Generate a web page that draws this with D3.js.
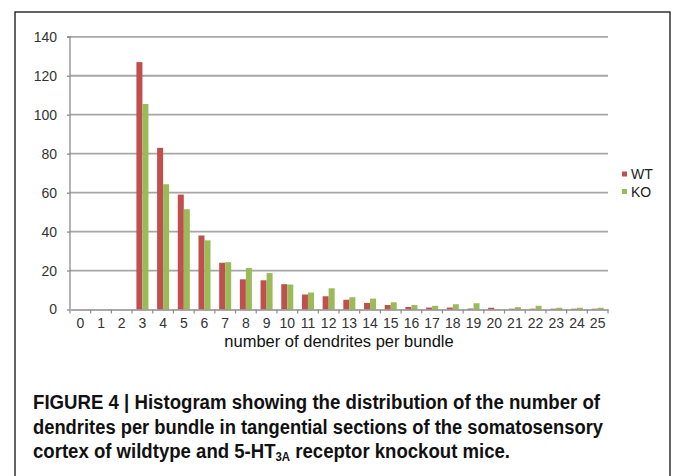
<!DOCTYPE html>
<html lang="en">
<head>
<meta charset="UTF-8">
<title>Dendrites per bundle</title>
<script src="https://d3js.org/d3.v7.min.js"></script>
<style>
  body { margin: 0; background: #fff; }
  svg { display: block; }
  .tick text { font-family: Arial, "Liberation Sans", sans-serif; font-size: 14px; fill: #333; }
</style>
</head>
<body>
<svg id="chart" width="673" height="476"></svg>
<script>
// number of dendrites per bundle (categories)
var categories = ["0","1","2","3","4","5","6","7","8","9","10","11","12","13","14","15","16","17","18","19","20","21","22","23","24","25"];
var seriesNames = ["WT", "KO"];
var wtValues = [0, 0, 0, 127, 83, 59, 38, 24, 15.5, 15, 13, 7.7, 6.8, 5, 3.4, 2.3, 1.3, 1, 1, 0.5, 0.9, 0.4, 0.4, 0.4, 0.4, 0.4];
var koValues = [0, 0, 0, 105.5, 64.3, 51.5, 35.5, 24.3, 21.3, 18.7, 12.8, 8.7, 10.9, 6.3, 5.6, 3.7, 2.3, 1.9, 2.7, 3.2, 0.3, 1.2, 1.9, 0.9, 0.9, 0.9];
var yTicks = [0, 20, 40, 60, 80, 100, 120, 140];
var colors = {WT: "#c0504d", KO: "#9bbb59"};

var captionLines = [
  "FIGURE 4 | Histogram showing the distribution of the number of",
  "dendrites per bundle in tangential sections of the somatosensory"
];

var svg = d3.select("#chart");

// outer frame
svg.append("rect")
  .attr("x", 15).attr("y", 12)
  .attr("width", 655).attr("height", 480)
  .attr("fill", "none").attr("stroke", "#111").attr("stroke-width", 1.3);

var plotLeft = 70, plotRight = 608, plotTop = 36.8, plotBottom = 309.5;

var x = d3.scaleBand().domain(categories).range([plotLeft, plotRight]).paddingInner(0).paddingOuter(0);
var xs = d3.scaleBand().domain(seriesNames).range([0, x.bandwidth()]).paddingInner(0).paddingOuter(0.72);
var y = d3.scaleLinear().domain([0, 140]).range([plotBottom, plotTop]);

// gridlines
svg.append("g").selectAll("line")
  .data(yTicks.filter(function(d) { return d > 0; }))
  .enter().append("line")
  .attr("x1", plotLeft).attr("x2", plotRight)
  .attr("y1", function(d) { return y(d); })
  .attr("y2", function(d) { return y(d); })
  .attr("stroke", "#a6a6a6").attr("stroke-width", 1.8);

// bars
var rows = categories.map(function(c, i) {
  return {cat: c, WT: wtValues[i], KO: koValues[i]};
});
var groups = svg.append("g").selectAll("g")
  .data(rows).enter().append("g")
  .attr("transform", function(d) { return "translate(" + x(d.cat) + ",0)"; });
groups.selectAll("rect")
  .data(function(d) { return seriesNames.map(function(s) { return {s: s, v: d[s]}; }); })
  .enter().append("rect")
  .attr("x", function(d) { return xs(d.s); })
  .attr("width", xs.bandwidth())
  .attr("y", function(d) { return y(d.v); })
  .attr("height", function(d) { return plotBottom - y(d.v); })
  .attr("fill", function(d) { return colors[d.s]; });

// y axis
var yAxis = svg.append("g")
  .attr("transform", "translate(" + plotLeft + ",0)")
  .call(d3.axisLeft(y).tickValues(yTicks).tickSize(3).tickPadding(10));
yAxis.selectAll("path, line").attr("stroke", "#8c8c8c").attr("stroke-width", 1.3);
yAxis.select(".domain").attr("d", "M-3," + plotTop + "H0V" + plotBottom);

// x axis
var xAxis = svg.append("g")
  .attr("transform", "translate(0," + plotBottom + ")")
  .call(d3.axisBottom(x).tickSize(0).tickPadding(9));
xAxis.select(".domain").attr("stroke", "#8c8c8c").attr("stroke-width", 1.5);
// tick marks between categories
xAxis.selectAll(".sep")
  .data(categories.concat(["end"]))
  .enter().append("line")
  .attr("class", "sep")
  .attr("x1", function(d) { return d === "end" ? plotRight : x(d); })
  .attr("x2", function(d) { return d === "end" ? plotRight : x(d); })
  .attr("y1", 0).attr("y2", 4)
  .attr("stroke", "#8c8c8c").attr("stroke-width", 1.2);

svg.append("text")
  .attr("x", (plotLeft + plotRight) / 2)
  .attr("y", 347)
  .attr("text-anchor", "middle")
  .style("font-family", "Arial, 'Liberation Sans', sans-serif")
  .style("font-size", "16.5px")
  .style("fill", "#111")
  .text("number of dendrites per bundle");

// legend
var legend = svg.append("g").selectAll("g")
  .data(seriesNames).enter().append("g")
  .attr("transform", function(d, i) { return "translate(622," + (174 + i * 17.5) + ")"; });
legend.append("rect")
  .attr("x", 0).attr("y", -2.5).attr("width", 5).attr("height", 5)
  .attr("fill", function(d) { return colors[d]; });
legend.append("text")
  .attr("x", 9).attr("y", 5)
  .style("font-family", "Arial, 'Liberation Sans', sans-serif")
  .style("font-size", "14px")
  .style("fill", "#222")
  .text(function(d) { return d; });

// caption
var capFont = "'Liberation Sans Narrow', 'Arial Narrow', 'Liberation Sans', Arial, sans-serif";
var cap = svg.append("g")
  .style("font-family", capFont)
  .style("font-weight", "bold")
  .style("font-size", "19.5px")
  .style("fill", "#111");
var capWidths = [567, 570];
captionLines.forEach(function(t, i) {
  cap.append("text")
    .attr("x", 33).attr("y", 409 + i * 24.5)
    .attr("textLength", capWidths[i])
    .attr("lengthAdjust", "spacingAndGlyphs")
    .text(t);
});
var last = cap.append("text").attr("x", 33).attr("y", 458)
  .attr("textLength", 477).attr("lengthAdjust", "spacingAndGlyphs");
last.append("tspan").text("cortex of wildtype and 5-HT");
last.append("tspan").attr("dy", 3).style("font-size", "12px").text("3A");
last.append("tspan").attr("dy", -3).text(" receptor knockout mice.");
</script>
</body>
</html>
